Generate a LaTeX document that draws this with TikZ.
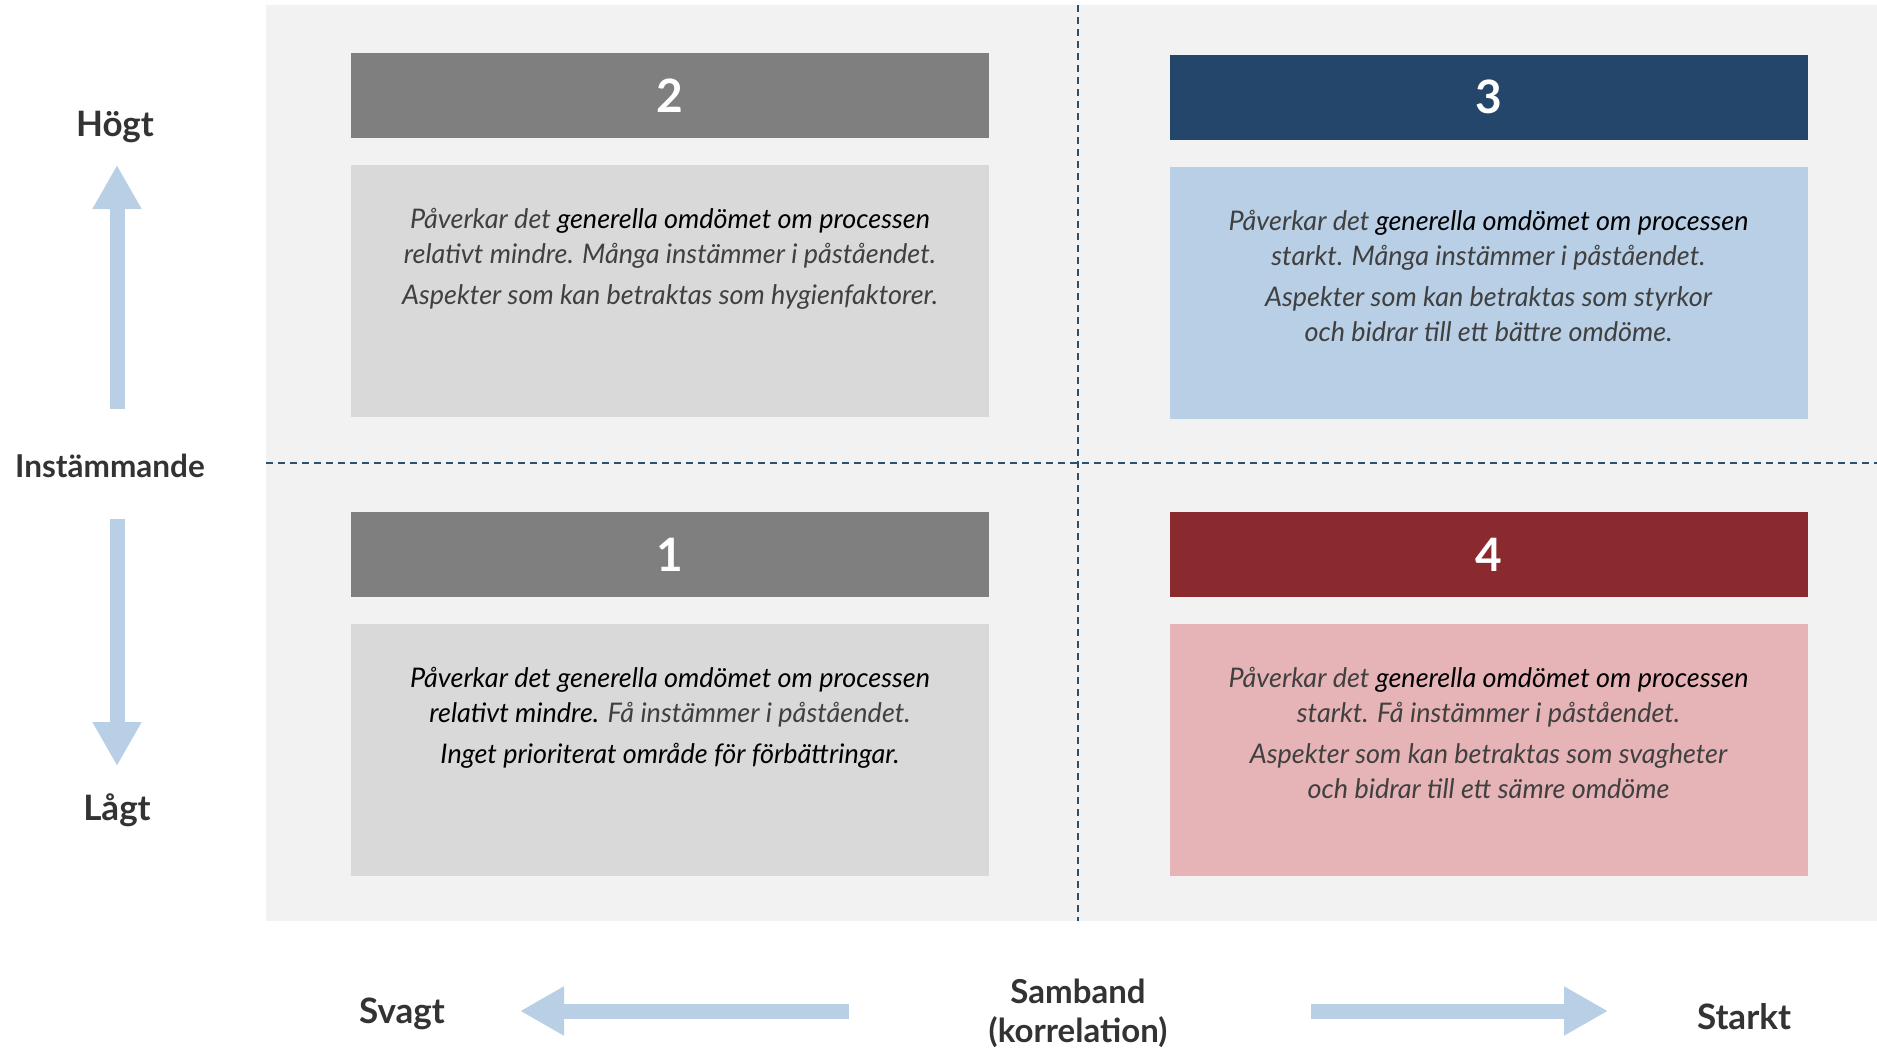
\documentclass[tikz,border=0pt]{standalone}
\usepackage{fontspec}
\setmainfont{Lato}
\usetikzlibrary{positioning}
\usetikzlibrary{arrows.meta}
\definecolor{panelgray}{HTML}{F2F2F2}
\definecolor{headgray}{HTML}{7F7F7F}
\definecolor{bodygray}{HTML}{D9D9D9}
\definecolor{headblue}{HTML}{23466A}
\definecolor{bodyblue}{HTML}{B8CFE6}
\definecolor{headred}{HTML}{8B2A2E}
\definecolor{bodyred}{HTML}{E6B4B6}
\definecolor{arrowblue}{HTML}{B8CFE6}
\definecolor{lineblue}{HTML}{2F4F6F}
\definecolor{textgray}{HTML}{404040}
\definecolor{labelgray}{HTML}{333333}

\begin{document}
\begin{tikzpicture}[x=1pt, y=-1pt,
headnode/.style={rectangle, minimum width=638pt, minimum height=85pt, inner sep=0pt, text=white, font=\bfseries\fontsize{46}{50}\selectfont},
bodynode/.style={rectangle, minimum width=638pt, minimum height=252pt, inner sep=0pt},
bodytext/.style={align=center, inner sep=0pt, text=textgray, font=\itshape\fontsize{27}{35}\selectfont},
axislabel/.style={text=labelgray, align=center, font=\bfseries\fontsize{35}{39}\selectfont},
fatarrow/.style={draw=arrowblue, line width=15pt, -{Triangle[width=46pt,length=44pt]}},
quadline/.style={draw=lineblue, line width=2pt, dash pattern=on 7pt off 5pt},
node distance=27pt
]
\useasboundingbox (0,0) rectangle (1877,1047);
\fill[white] (0,0) rectangle (1877,1047);
\fill[panelgray] (266,5) rectangle (1877,921);

%Quadrant lines
\coordinate (vtop) at (1078,5);
\coordinate (vbot) at (1078,921);
\coordinate (hleft) at (266,463);
\coordinate (hright) at (1877,463);
\draw[quadline] (vtop) -- (vbot);
\draw[quadline] (hleft) -- (hright);

%Nodes
\node[headnode, fill=headgray]  (h2)  at (670,95.5)   {2};
\node[bodynode, fill=bodygray]  (b2)  [below=of h2]   {};
\node[headnode, fill=headblue]  (h3)  at (1488.5,97)  {3};
\node[bodynode, fill=bodyblue]  (b3)  [below=of h3]   {};
\node[headnode, fill=headgray]  (h1)  at (670,554.5)  {1};
\node[bodynode, fill=bodygray]  (b1)  [below=of h1]   {};
\node[headnode, fill=headred]   (h4)  at (1488.5,554.5) {4};
\node[bodynode, fill=bodyred]   (b4)  [below=of h4]   {};

\node[bodytext] (t2) [below=43pt of b2.north] {Påverkar det \textcolor{black}{generella omdömet om processen}\\relativt mindre. Många instämmer i påståendet.\\[6pt]Aspekter som kan betraktas som hygienfaktorer.};
\node[bodytext] (t3) [below=43pt of b3.north] {Påverkar det \textcolor{black}{generella omdömet om processen}\\starkt. Många instämmer i påståendet.\\[6pt]Aspekter som kan betraktas som styrkor\\och bidrar till ett bättre omdöme.};
\node[bodytext] (t1) [below=43pt of b1.north] {\textcolor{black}{Påverkar det generella omdömet om processen}\\\textcolor{black}{relativt mindre.} Få instämmer i påståendet.\\[6pt]\textcolor{black}{Inget prioriterat område för förbättringar.}};
\node[bodytext] (t4) [below=43pt of b4.north] {Påverkar det \textcolor{black}{generella omdömet om processen}\\starkt. Få instämmer i påståendet.\\[6pt]Aspekter som kan betraktas som svagheter\\och bidrar till ett sämre omdöme};

%Axis labels
\node[axislabel] (high)  at (115,127)  {Högt};
\node[axislabel, font=\bfseries\fontsize{31.5}{39}\selectfont] (agree) at (110,466)  {Instämmande};
\node[axislabel] (low)   at (117,810)  {Lågt};
\node[axislabel] (weak)  at (402,1014) {Svagt};
\node[axislabel, font=\bfseries\fontsize{33}{39}\selectfont] (corr)  at (1078,1013) {Samband\\(korrelation)};
\node[axislabel] (strong) at (1744,1017) {Starkt};

\coordinate (upfrom)    at (117,409);
\coordinate (upto)      at (117,165);
\coordinate (downfrom)  at (117,519);
\coordinate (downto)    at (117,766);
\coordinate (leftfrom)  at (849,1011);
\coordinate (leftto)    at (520,1011);
\coordinate (rightfrom) at (1311,1011);
\coordinate (rightto)   at (1608,1011);

%Lines
\draw[fatarrow] (upfrom) -- (upto);
\draw[fatarrow] (downfrom) -- (downto);
\draw[fatarrow] (leftfrom) -- (leftto);
\draw[fatarrow] (rightfrom) -- (rightto);
\end{tikzpicture}
\end{document}
